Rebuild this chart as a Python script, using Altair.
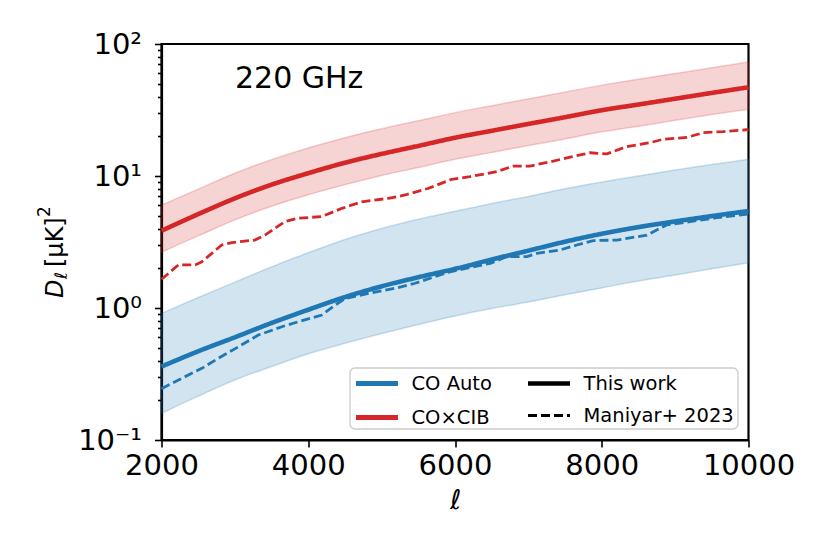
import altair as alt
import pandas as pd

# ---------------- data ----------------
ell_model = [2000, 2500, 3000, 3500, 4000, 4500, 5000, 5500, 6000,
             6500, 7000, 7500, 8000, 8500, 9000, 9500, 10000]

co_auto_this = [0.36, 0.47, 0.60, 0.77, 0.97, 1.21, 1.46, 1.71, 1.98,
                2.33, 2.72, 3.18, 3.65, 4.10, 4.53, 4.97, 5.43]
co_auto_hi = [0.91, 1.20, 1.57, 2.05, 2.62, 3.3, 4.0, 4.7, 5.4,
              6.2, 7.0, 8.0, 9.0, 10.0, 11.1, 12.2, 13.4]
co_auto_lo = [0.159, 0.215, 0.285, 0.36, 0.45, 0.54, 0.64, 0.75, 0.87,
              0.99, 1.11, 1.26, 1.42, 1.60, 1.78, 1.98, 2.2]

co_cib_this = [3.85, 5.14, 6.77, 8.6, 10.5, 12.6, 14.7, 16.9, 19.5,
               22.0, 24.8, 27.9, 31.5, 34.8, 38.5, 42.6, 47.0]
co_cib_hi = [6.0, 7.95, 10.5, 13.3, 16.3, 19.5, 22.8, 26.2, 30.2,
             34.1, 38.4, 43.2, 48.8, 54.0, 59.7, 66.0, 73.0]
co_cib_lo = [2.65, 3.52, 4.65, 5.9, 7.2, 8.6, 10.1, 11.6, 13.4,
             15.1, 17.0, 19.1, 21.6, 23.8, 26.4, 29.2, 32.0]

ell_man_auto = [2000, 2275, 2550, 2775, 3050, 3320, 3640, 3865, 4185, 4365,
                4500, 4820, 5185, 5455, 5930, 6480, 6705, 6980, 7115, 7430,
                7660, 7885, 8205, 8615, 8885, 9205, 9520, 10000]
co_auto_man = [0.245, 0.293, 0.349, 0.416, 0.509, 0.624, 0.721, 0.787, 0.885, 1.05,
               1.18, 1.29, 1.41, 1.54, 1.88, 2.18, 2.45, 2.45, 2.59, 2.75,
               3.0, 3.24, 3.27, 3.57, 4.26, 4.51, 4.79, 5.15]

ell_man_cib = [2000, 2230, 2460, 2550, 2820, 2960, 3270, 3410, 3680, 3860,
               4180, 4460, 4730, 5090, 5320, 5640, 5955, 6205, 6570, 6795,
               7020, 7295, 7570, 7840, 8070, 8340, 8660, 8840, 9160, 9385,
               9660, 10000]
co_cib_man = [1.65, 2.12, 2.12, 2.24, 3.0, 3.13, 3.27, 3.57, 4.51, 4.79,
              4.92, 5.69, 6.38, 6.77, 7.18, 8.07, 9.44, 9.89, 10.8, 11.9,
              11.9, 12.8, 13.9, 15.0, 14.7, 16.7, 17.9, 19.0, 19.6, 21.3,
              21.7, 22.5]

species = ["CO Auto", "CO×CIB"]
sources = ["This work", "Maniyar+ 2023"]
species_colors = ["#1f77b4", "#d62728"]

x_ticks = [2000, 4000, 6000, 8000, 10000]
y_ticks = [0.1, 0.2, 0.3, 0.4, 0.5, 0.6, 0.7, 0.8, 0.9,
           1, 2, 3, 4, 5, 6, 7, 8, 9,
           10, 20, 30, 40, 50, 60, 70, 80, 90, 100]

# ---------------- tables ----------------
rows = []
for sp, mid, lo, hi in [(species[0], co_auto_this, co_auto_lo, co_auto_hi),
                        (species[1], co_cib_this, co_cib_lo, co_cib_hi)]:
    for e, m, l, h in zip(ell_model, mid, lo, hi):
        rows.append(dict(ell=e, value=m, lo=l, hi=h, species=sp, source=sources[0]))
model_df = pd.DataFrame(rows)

rows = []
for sp, ells, vals in [(species[0], ell_man_auto, co_auto_man),
                       (species[1], ell_man_cib, co_cib_man)]:
    for e, v in zip(ells, vals):
        rows.append(dict(ell=e, value=v, species=sp, source=sources[1]))
man_df = pd.DataFrame(rows)

FONT = "DejaVu Sans"

xscale = alt.Scale(domain=[2000, 10000], nice=False, zero=False)
yscale = alt.Scale(type="log", domain=[0.1, 100], nice=False)

xaxis = alt.Axis(values=x_ticks, format="d", labelFontSize=29, labelFont=FONT,
                 labelFlush=False, tickSize=7, labelPadding=4,
                 title="ℓ", titleFont=FONT, titleFontSize=27, titleFontStyle="italic",
                 titleFontWeight="normal", titlePadding=7)
major_test = "indexof([0.1, 1, 10, 100], datum.value) >= 0"
yaxis = alt.Axis(values=y_ticks,
                 labelExpr="datum.value == 100 ? '10²' : datum.value == 10 ? '10¹' : "
                           "datum.value == 1 ? '10⁰' : datum.value == 0.1 ? '10⁻¹' : ''",
                 labelFontSize=29, labelFont=FONT, labelFlush=False, labelOverlap=False,
                 labelBound=False,
                 tickSize={"condition": {"test": major_test, "value": 7}, "value": 4},
                 labelPadding=13, title=None)

x_enc = alt.X("ell:Q", scale=xscale, axis=xaxis)

color_scale = alt.Scale(domain=species, range=species_colors)


def band(sp, col):
    return alt.Chart(model_df).transform_filter(
        alt.datum.species == sp
    ).mark_area(
        interpolate="monotone", color=col, fillOpacity=0.2,
        stroke=col, strokeOpacity=0.22, strokeWidth=1.5
    ).encode(
        x=x_enc,
        y=alt.Y("lo:Q", scale=yscale, axis=yaxis),
        y2="hi:Q",
    )


bands = [band(sp, c) for sp, c in zip(species, species_colors)]

color_enc = alt.Color("species:N", scale=color_scale,
                      legend=alt.Legend(title=None, orient="none", legendX=192, legendY=316,
                                        symbolType="stroke", symbolSize=1764,
                                        symbolStrokeWidth=4.8, labelFontSize=19.5,
                                        labelFont=FONT, labelColor="black",
                                        labelOffset=11, rowPadding=-15, padding=0))
dash_scale = alt.Scale(domain=sources, range=[[1, 0], [9, 4]])
dash_enc = alt.StrokeDash("source:N", scale=dash_scale,
                          legend=alt.Legend(title=None, orient="none", legendX=364, legendY=316,
                                            symbolType="stroke", symbolSize=1764,
                                            symbolStrokeColor="black", labelFontSize=19.5,
                                            labelFont=FONT, labelColor="black",
                                            labelOffset=11, rowPadding=-15, padding=0))
width_enc = alt.StrokeWidth("source:N",
                            scale=alt.Scale(domain=sources, range=[4.6, 2.8], padding=0))

solid = alt.Chart(model_df).mark_line(interpolate="monotone").encode(
    x=x_enc,
    y=alt.Y("value:Q", scale=yscale, axis=yaxis),
    color=color_enc,
    strokeDash=dash_enc,
    strokeWidth=width_enc,
)

dashed = alt.Chart(man_df).mark_line().encode(
    x=x_enc,
    y=alt.Y("value:Q", scale=yscale, axis=yaxis),
    color=color_enc,
    strokeDash=dash_enc,
    strokeWidth=width_enc,
)

one = pd.DataFrame({"t": [""]})
legend_box = alt.Chart(one).mark_rect(
    fill="white", fillOpacity=0.8, stroke="#cccccc", strokeWidth=1.3, cornerRadius=5
).encode(x=alt.value(188.5), x2=alt.value(576.5), y=alt.value(324), y2=alt.value(385))


def label(txt, x, y, size, style="normal", angle=0):
    return alt.Chart(pd.DataFrame({"t": [txt]})).mark_text(
        font=FONT, fontSize=size, fontStyle=style, angle=angle, align="left",
        baseline="alphabetic", color="black"
    ).encode(text="t:N", x=alt.value(x), y=alt.value(y))


freq_label = label("220 GHz", 73.5, 44, 30)
ytitle = [
    label("D", -98.5, 254, 24, "italic", 270),
    label("ℓ", -94.5, 235, 17, "italic", 270),
    label("[μK]", -98.5, 223, 24, "normal", 270),
    label("2", -112, 173, 17, "normal", 270),
]

chart = alt.layer(*bands, solid, dashed, legend_box, freq_label, *ytitle).properties(
    width=587, height=396,
    autosize=alt.AutoSizeParams(type="none"),
    padding={"left": 153.5, "top": 36, "right": 60, "bottom": 100},
).configure_view(
    stroke="black", strokeWidth=2.2
).configure_axis(
    domainColor="black", domainWidth=2.2, tickColor="black", tickWidth=1.6,
    labelColor="black", grid=False
)

chart.save("out.html", embed_options={"renderer": "svg", "actions": False})
